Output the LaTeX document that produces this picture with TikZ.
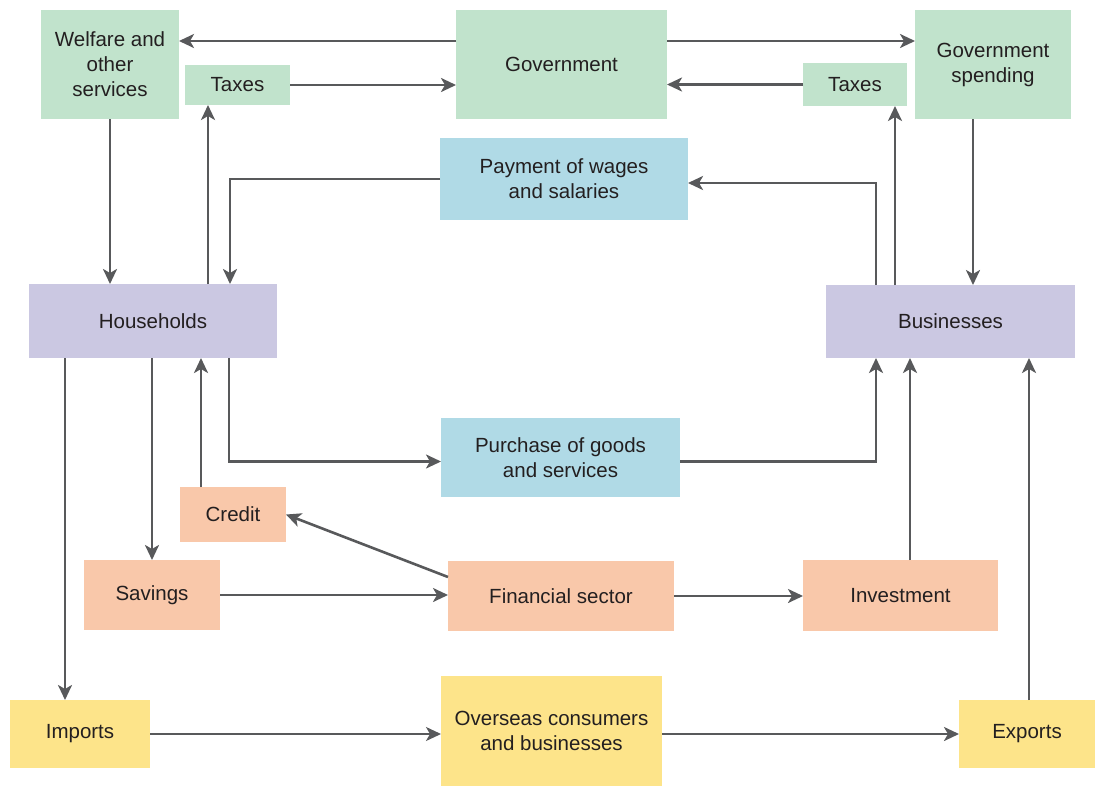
\documentclass[tikz,border=0pt]{standalone}
\usepackage{fontspec}
\setmainfont{Liberation Sans}
\usetikzlibrary{arrows.meta}
\definecolor{cgreen}{HTML}{C1E3CC}
\definecolor{cblue}{HTML}{B0DAE6}
\definecolor{clav}{HTML}{CBC8E2}
\definecolor{cpeach}{HTML}{F9C8AA}
\definecolor{cyel}{HTML}{FDE48A}
\definecolor{cline}{HTML}{58595B}
\definecolor{ctext}{HTML}{231F20}
\tikzset{
  box/.style={inner sep=0pt, outer sep=0pt, align=center, text=ctext,
    font=\fontsize{20.5}{25}\selectfont},
  gbox/.style={box, fill=cgreen},
  bbox/.style={box, fill=cblue},
  lbox/.style={box, fill=clav},
  pbox/.style={box, fill=cpeach},
  ybox/.style={box, fill=cyel},
  arr/.style={draw=cline, line width=2.6pt,
    -{Stealth[length=15pt,width=14pt,inset=4pt]}},
  thinarr/.style={arr, line width=1.9pt}
}
\begin{document}
\begin{tikzpicture}[x=1pt,y=-1pt]
\useasboundingbox (0,0) rectangle (1095,787);
% green
\node[gbox, minimum width=138pt, minimum height=109pt] (welf) at (110,64.5) {Welfare and\\other\\services};
\node[gbox, minimum width=105pt, minimum height=40pt] (taxL) at (237.5,85) {Taxes};
\node[gbox, minimum width=211pt, minimum height=109pt] (gov) at (561.5,64.5) {Government};
\node[gbox, minimum width=104pt, minimum height=43pt] (taxR) at (855,84.5) {Taxes};
\node[gbox, minimum width=156pt, minimum height=109pt] (gs) at (993,64.5) {Government\\spending};
% blue
\node[bbox, minimum width=248pt, minimum height=82pt] (pay) at (564,179) {Payment of wages\\and salaries};
\node[bbox, minimum width=239pt, minimum height=79pt] (pur) at (560.5,457.5) {Purchase of goods\\and services};
% lavender
\node[lbox, minimum width=248pt, minimum height=74pt] (hh) at (153,321) {Households};
\node[lbox, minimum width=249pt, minimum height=73pt] (bus) at (950.5,321.5) {Businesses};
% peach
\node[pbox, minimum width=106pt, minimum height=55pt] (cred) at (233,514.5) {Credit};
\node[pbox, minimum width=136pt, minimum height=70pt] (sav) at (152,595) {Savings};
\node[pbox, minimum width=226pt, minimum height=70pt] (fin) at (561,596) {Financial sector};
\node[pbox, minimum width=195pt, minimum height=71pt] (inv) at (900.5,595.5) {Investment};
% yellow
\node[ybox, minimum width=140pt, minimum height=68pt] (imp) at (80,734) {Imports};
\node[ybox, minimum width=221pt, minimum height=110pt] (ov) at (551.5,731) {Overseas consumers\\and businesses};
\node[ybox, minimum width=136pt, minimum height=68pt] (exp) at (1027,734) {Exports};
% helper coordinates
\coordinate (gw) at ([yshift=23.5pt]gov.west);
\coordinate (ge) at ([yshift=23.5pt]gov.east);
\coordinate (hhT) at ([xshift=55pt]hh.north);
\coordinate (hhP) at ([xshift=77pt]hh.north);
\coordinate (hhB) at ([xshift=76pt]hh.south);
\coordinate (busP) at ([xshift=-74.5pt]bus.north);
\coordinate (busPs) at ([xshift=-74.5pt]bus.south);
\coordinate (busT) at ([xshift=-55.5pt]bus.north);
\coordinate (gsS) at ([xshift=-20pt]gs.south);
\coordinate (crN) at ([xshift=-32pt]cred.north);
\coordinate (impN) at ([xshift=-15pt]imp.north);
\coordinate (invN) at ([xshift=9.5pt]inv.north);
\coordinate (expN) at ([xshift=2pt]exp.north);
\coordinate (finC) at ([yshift=-16pt]fin.north west);
% connectors
\draw[arr] (gw) -- (gw -| welf.east);
\draw[arr] (taxL.east) -- (taxL.east -| gov.west);
\draw[arr] (ge) -- (ge -| gs.west);
\draw[arr] (taxR.west) -- (taxR.west -| gov.east);
\draw[arr] (welf.south) -- (welf.south |- hh.north);
\draw[arr] (hhT) -- (hhT |- taxL.south);
\draw[arr] (pay.west) -| (hhP);
\draw[arr] (busP) |- ([yshift=-4pt]pay.east);
\draw[arr] (busT) -- (busT |- taxR.south);
\draw[arr] (gsS) -- (gsS |- bus.north);
\draw[arr] (hhB) |- ([yshift=-4pt]pur.west);
\draw[arr] ([yshift=-4pt]pur.east) -| (busPs);
\draw[arr] (crN) -- (crN |- hh.south);
\draw[arr] (sav.north |- hh.south) -- (sav.north);
\draw[arr] (impN |- hh.south) -- (impN);
\draw[arr] (finC) -- (cred.east);
\draw[arr] (sav.east) -- (sav.east -| fin.west);
\draw[arr] (fin.east) -- (fin.east -| inv.west);
\draw[arr] (invN) -- (invN |- bus.south);
\draw[thinarr] (imp.east) -- (imp.east -| ov.west);
\draw[arr] (exp.west -| ov.east) -- (exp.west);
\draw[arr] (expN) -- (expN |- bus.south);
\end{tikzpicture}
\end{document}
